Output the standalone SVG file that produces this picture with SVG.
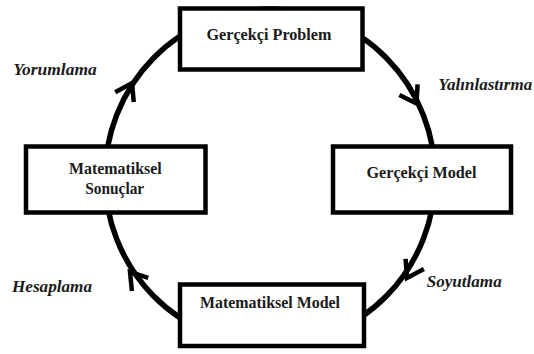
<svg xmlns="http://www.w3.org/2000/svg" xmlns:xlink="http://www.w3.org/1999/xlink" width="534" height="354" viewBox="0 0 534 354">
  <style>
    .ring { fill: none; stroke: #000; stroke-width: 5.5; }
    .head { fill: none; stroke: #000; stroke-width: 4.5; stroke-linejoin: miter; stroke-linecap: butt; }
    .box { fill: #fff; stroke: #000; stroke-width: 4.5; }
    .lbl { font-weight: bold; font-size: 16px; fill: #1a1a1a; }
    .step { font-weight: bold; font-style: italic; font-size: 17px; fill: #1a1a1a; }
  </style>
  <defs>
    <!-- open chevron, tip at origin, pointing along +x -->
    <path id="chev" class="head" d="M-16,-10.5 L0,0 L-16,10.5"/>
  </defs>

  <!-- cycle connectors -->
  <g id="connectors">
    <ellipse class="ring" cx="270" cy="177" rx="165" ry="168"/>
    <use xlink:href="#chev" transform="translate(416.5,103.5) rotate(60)"/>
    <use xlink:href="#chev" transform="translate(407,278) rotate(119)"/>
    <use xlink:href="#chev" transform="translate(130,272) rotate(-129)"/>
    <use xlink:href="#chev" transform="translate(132,83) rotate(-62)"/>
  </g>

  <g font-family="Liberation Serif, DejaVu Serif, serif">
    <g id="gercekci-problem">
      <rect class="box" x="180" y="8.5" width="182.5" height="61"/>
      <text class="lbl" x="269" y="40" text-anchor="middle" textLength="125" lengthAdjust="spacingAndGlyphs">Gerçekçi Problem</text>
    </g>

    <g id="gercekci-model">
      <rect class="box" x="333" y="146.5" width="178" height="66"/>
      <text class="lbl" x="421.5" y="177.5" text-anchor="middle" textLength="110" lengthAdjust="spacingAndGlyphs">Gerçekçi Model</text>
    </g>

    <g id="matematiksel-model">
      <rect class="box" x="180" y="284.5" width="184" height="61.5"/>
      <text class="lbl" x="270" y="308" text-anchor="middle" textLength="140" lengthAdjust="spacingAndGlyphs">Matematiksel Model</text>
    </g>

    <g id="matematiksel-sonuclar">
      <rect class="box" x="26" y="146.5" width="179.5" height="66"/>
      <text class="lbl" x="115.3" y="174" text-anchor="middle" textLength="92.7" lengthAdjust="spacingAndGlyphs">Matematiksel</text>
      <text class="lbl" x="114.7" y="194" text-anchor="middle" textLength="59" lengthAdjust="spacingAndGlyphs">Sonuçlar</text>
    </g>

    <!-- step labels -->
    <g id="step-labels">
      <text class="step" x="13.3" y="75" textLength="83.4" lengthAdjust="spacingAndGlyphs">Yorumlama</text>
      <text class="step" x="438.3" y="90">Yalınlastırma</text>
      <text class="step" x="12" y="291.7" textLength="80" lengthAdjust="spacingAndGlyphs">Hesaplama</text>
      <text class="step" x="426.7" y="286.7" textLength="75" lengthAdjust="spacingAndGlyphs">Soyutlama</text>
    </g>
  </g>
</svg>
